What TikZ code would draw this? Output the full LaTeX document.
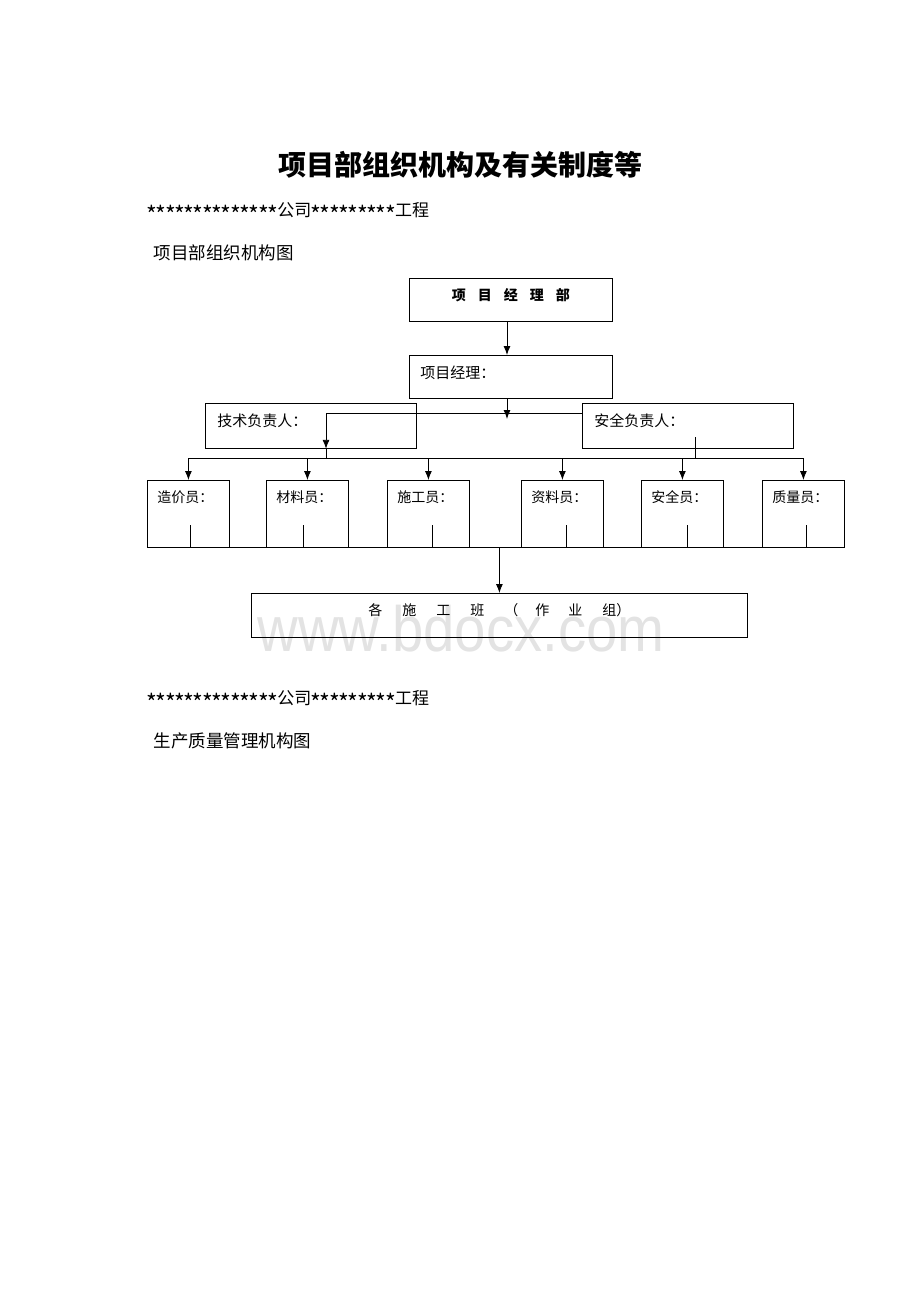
\documentclass[tikz,border=0pt]{standalone}
\usepackage{fontspec}
\setmainfont{Noto Sans CJK SC}
\newfontfamily\wmfont{Liberation Sans}
\usetikzlibrary{arrows.meta,positioning}
\newcommand\xh{\makebox[9.3pt]{\raisebox{-6.5pt}{\fontsize{23}{23}\selectfont *}}}

\begin{document}
\begin{tikzpicture}[x=1pt,y=-1pt,
  kuang/.style={draw, line width=0.8pt, rectangle, inner ysep=0pt, anchor=north west, align=left},
  jt/.style={arrows={-Latex[width=7pt,length=9pt]}, line width=0.9pt},
  xian/.style={line width=0.8pt}]
\useasboundingbox (0,0) rectangle (920,1302);

% watermark behind everything
\node[font=\wmfont\fontsize{64}{64}\selectfont, text=black!11, anchor=base] (sy) at (461,651) {\scalebox{0.88}[1]{www.bdocx.com}};

% page texts
\node[font=\bfseries\fontsize{28}{28}\selectfont] (bt) at (460,165) {项目部组织机构及有关制度等};
\node[anchor=west, inner xsep=0pt, font=\fontsize{17}{17}\selectfont] (gs1) at (147,213) {\xh\xh\xh\xh\xh\xh\xh\xh\xh\xh\xh\xh\xh\xh 公司\xh\xh\xh\xh\xh\xh\xh\xh\xh 工程};
\node[anchor=west, font=\fontsize{17.5}{17.5}\selectfont] (bt1) at (150,253) {项目部组织机构图};
\node[anchor=west, inner xsep=0pt, font=\fontsize{17}{17}\selectfont] (gs2) at (147,701) {\xh\xh\xh\xh\xh\xh\xh\xh\xh\xh\xh\xh\xh\xh 公司\xh\xh\xh\xh\xh\xh\xh\xh\xh 工程};
\node[anchor=west, font=\fontsize{17.5}{17.5}\selectfont] (bt2) at (150,741) {生产质量管理机构图};

% boxes
\node[kuang, font=\bfseries\fontsize{14}{14}\selectfont, align=center, inner xsep=0pt, text width=203pt, text height=22.3pt, text depth=20.7pt] (bu) at (409,278) {项\hspace{12pt}目\hspace{12pt}经\hspace{12pt}理\hspace{12pt}部};
\node[kuang, font=\fontsize{15}{15}\selectfont, inner xsep=11pt, text width=181pt, text height=22.7pt, text depth=20.3pt] (jl) at (409,355) {项目经理：};
\node[kuang, font=\fontsize{15}{15}\selectfont, inner xsep=12pt, text width=187pt, text height=22.7pt, text depth=22.3pt] (js) at (205,403) {技术负责人：};
\node[kuang, font=\fontsize{15}{15}\selectfont, inner xsep=12pt, text width=187pt, text height=22.7pt, text depth=22.3pt] (aq) at (582,403) {安全负责人：};
\foreach \n/\x/\t in {zj/147/造价员, cl/266/材料员, sg/387/施工员, zl/521/资料员, aqy/641/安全员, zly/762/质量员}
  \node[kuang, font=\fontsize{14}{14}\selectfont, inner xsep=10pt, text width=62pt, text height=22.3pt, text depth=44.7pt] (\n) at (\x,480) {\t：};
\node[kuang, font=\fontsize{14}{14}\selectfont, align=center, inner xsep=0pt, text width=496pt, text height=22.3pt, text depth=21.7pt] (bz) at (251,593) {各\hspace{20pt}施\hspace{20pt}工\hspace{20pt}班\hspace{20pt}（\hspace{17pt}作\hspace{19pt}业\hspace{20pt}组）};

% connectors
\coordinate (zh) at (507,0);
\coordinate (jd) at (zh |- 0,419);
\coordinate (fz) at (326,413);
\coordinate (zx) at (0,458);
\coordinate (aqx) at (695,437);
\draw[jt] (bu.south -| zh) -- (jl.north -| zh);
\draw[jt] (jl.south -| zh) -- (jd);
\draw[xian] (fz) -- (fz -| aq.west);
\draw[jt] (fz) -- (fz |- js.south);
\draw[xian] (fz |- js.south) -- (fz |- zx);
\draw[xian] (aqx) -- (aqx |- zx);
\draw[xian] (zx -| zj.north) -- (zx -| zly.north);
\foreach \n in {zj,cl,sg,zl,aqy,zly}
  \draw[jt] (zx -| \n.north) -- (\n.north);
\foreach \x in {190,303,432,566,687,806}
  \draw[xian] (\x,525) -- (\x,547);
\draw[xian] (zj.south west) -- (zly.south east);
\draw[jt] (bz.north |- zj.south) -- (bz.north);
\end{tikzpicture}
\end{document}
